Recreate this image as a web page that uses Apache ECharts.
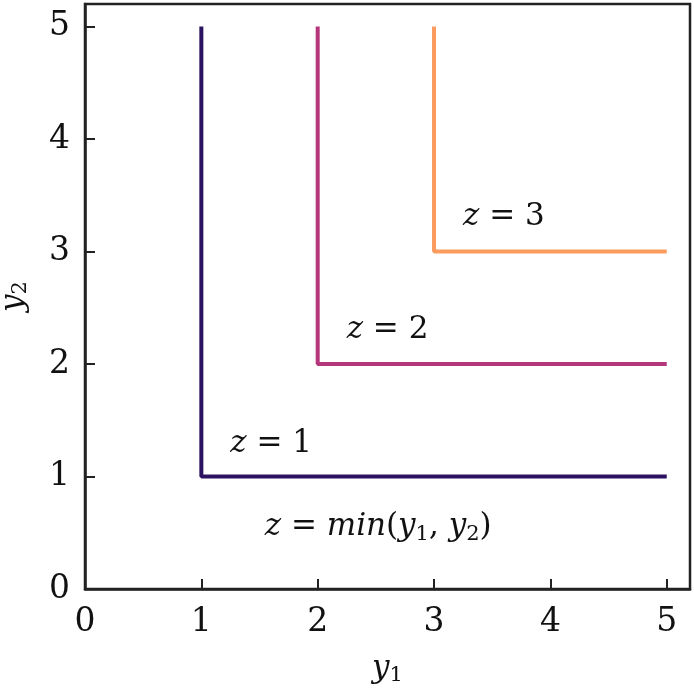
<!DOCTYPE html>
<html><head><meta charset="utf-8">
<script src="https://cdn.jsdelivr.net/npm/echarts@6/dist/echarts.min.js"></script>
<style>html,body{margin:0;padding:0;background:#fff}#c{width:694px;height:690px}</style>
</head><body><div id="c"></div>
<script>
const xTicks = [0,1,2,3,4,5];
const yTicks = [0,1,2,3,4,5];
const levels = [1,2,3];
const curve1 = [[1,5],[1,1],[5,1]];
const curve2 = [[2,5],[2,2],[5,2]];
const curve3 = [[3,5],[3,3],[5,3]];
const colors = ['#2c1160','#b5367a','#fb9b5e'];
const labelPos = [[1.6,1.29],[2.6,2.3],[3.6,3.31]];
const formulaPos = [2.52,0.55];

const font = 'DejaVu Serif';
const tc = '#111';
const chart = echarts.init(document.getElementById('c'));
const curves = [curve1, curve2, curve3];
const series = curves.map((d,i)=>({
  type:'line', data:d, symbol:'none', lineStyle:{color:colors[i], width:4}, z:3
}));
const rich = {
  i:{fontFamily:font, fontStyle:'italic', fontSize:31, color:tc},
  n:{fontFamily:font, fontSize:31, color:tc},
  s:{fontFamily:font, fontSize:21, color:tc, padding:[14,0,0,0]}
};
series.push({
  type:'scatter', symbolSize:0, z:5, itemStyle:{opacity:1, color:'transparent'},
  data: levels.map((l,i)=>({value:labelPos[i]})),
  label:{show:true, position:'inside', opacity:1, formatter:p=>'{i|z}{n| = '+levels[p.dataIndex]+'}', rich:rich}
});
series.push({
  type:'scatter', symbolSize:0, z:5, itemStyle:{opacity:1, color:'transparent'},
  data:[{value:formulaPos}],
  label:{show:true, position:'inside', opacity:1,
    formatter:'{i|z}{n| = }{i|min}{n|(}{i|y}{s|1}{n|, }{i|y}{s|2}{n|)}', rich:rich}
});
chart.setOption({
  animation:false,
  grid:{left:85, right:4, top:4, bottom:101, outerBoundsMode:'none', containLabel:false,
    show:true, borderColor:'#222', borderWidth:2.5, backgroundColor:'#fff'},
  xAxis:{type:'value', min:0, max:5.2, interval:1,
    axisLine:{show:true, onZero:false, lineStyle:{color:'#222', width:2.5}},
    axisTick:{show:true, inside:true, length:10, lineStyle:{color:'#222', width:2}, customValues:xTicks},
    axisLabel:{fontFamily:font, fontSize:33, color:tc, margin:17, customValues:xTicks},
    splitLine:{show:false},
    name:'{i|y}{s|1}', nameLocation:'middle', nameGap:62,
    nameTextStyle:{rich:rich}
  },
  yAxis:{type:'value', min:0, max:5.2, interval:1,
    axisLine:{show:true, onZero:false, lineStyle:{color:'#222', width:2.5}},
    axisTick:{show:true, inside:true, length:10, lineStyle:{color:'#222', width:2}, customValues:yTicks},
    axisLabel:{fontFamily:font, fontSize:33, color:tc, margin:15, customValues:yTicks},
    splitLine:{show:false},
    name:'{i|y}{s|2}', nameLocation:'middle', nameGap:54, nameRotate:90,
    nameTextStyle:{rich:rich}
  },
  series:series
});
</script></body></html>
